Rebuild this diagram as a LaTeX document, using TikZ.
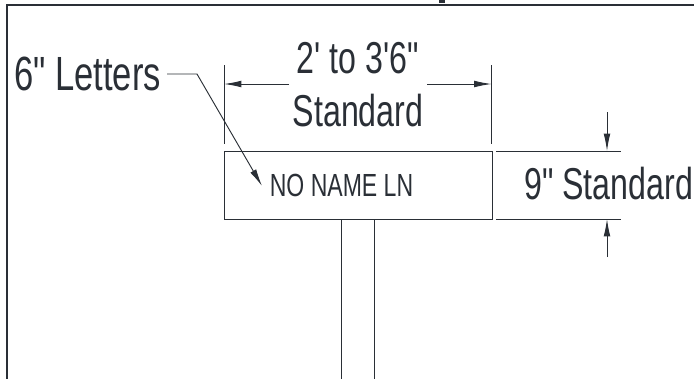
\documentclass[tikz,border=0pt]{standalone}
\usepackage{fontspec}
\newfontfamily\signfont{Liberation Sans}
\usetikzlibrary{arrows.meta, positioning}
\definecolor{ink}{HTML}{2A2F36}
\newcommand{\narrowtext}[1]{\scalebox{.72}[1]{#1}}

\begin{document}
\begin{tikzpicture}[x=.75pt,y=-.75pt,>={Latex[length=13pt,width=5pt]},ink]
  \tikzstyle{lbl}=[inner sep=0,text=ink,font=\signfont\fontsize{33.5}{33.5}\selectfont,align=center]
  \tikzstyle{thin}=[line width=.7pt,draw=ink]
  \useasboundingbox (0,0) rectangle (694,379);
  % frame
  \coordinate (ftl) at (7,5);
  \coordinate (ftr) at (694,5);
  \coordinate (fbl) at (7,379);
  \draw[line width=.8pt] (fbl) -- (ftl) -- (ftr);
  \fill (439,0) rectangle (445,3);
  \node[lbl,anchor=west,font=\signfont\fontsize{36}{36}\selectfont] (letters) at (14,74) {\narrowtext{6" Letters}};
  % sign
  \node[thin,draw,minimum width=268*.75pt,minimum height=68*.75pt,inner sep=0,anchor=north west] (sign) at (224,151) {};
  \node[lbl,font=\signfont\fontsize{24}{24}\selectfont] (name) at (341.5,185) {\narrowtext{NO NAME LN}};
  \coordinate (pl) at (341.5,379);
  \coordinate (pr) at (374.5,379);
  \draw[thin] (sign.south -| pl) -- (pl);
  \draw[thin] (sign.south -| pr) -- (pr);
  % leader
  \coordinate (lbend) at (197,74);
  \coordinate (ltip) at (262,186);
  \draw[thin,->] (167,74) -- (lbend) -- (ltip);
  % width dim
  \node[lbl] (wtop) at (358,58) {\narrowtext{2' to 3'6"}};
  \node[lbl] (wbot) at (358,111) {\narrowtext{Standard}};
  \coordinate (wl) at (224,65);
  \coordinate (wr) at (491.5,65);
  \draw[thin] (wl) -- (224,144);
  \draw[thin] (wr) -- (491.5,144);
  \coordinate (wa) at (289,84);
  \coordinate (wb) at (427,84);
  \draw[thin,->] (wa) -- (wa -| wl);
  \draw[thin,->] (wb) -- (wb -| wr);
  % height dim
  \node[lbl,anchor=west] (hgt) at (524,184) {\narrowtext{9" Standard}};
  \coordinate (ht) at (496,151);
  \coordinate (hb) at (496,219);
  \draw[thin] (ht) -- (621,151);
  \draw[thin] (hb) -- (621,219);
  \coordinate (ha) at (607,112);
  \coordinate (hc) at (607,257);
  \draw[thin,->] (ha) -- (ha |- ht);
  \draw[thin,->] (hc) -- (hc |- hb);
\end{tikzpicture}
\end{document}
